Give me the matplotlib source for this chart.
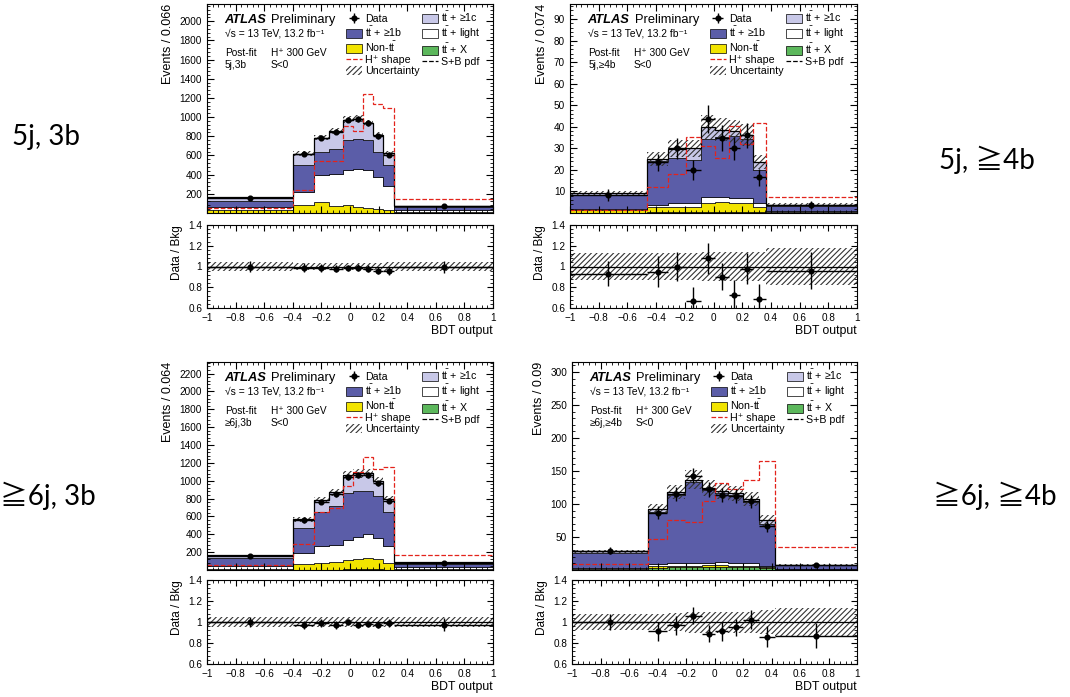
import numpy as np
import matplotlib.pyplot as plt
from matplotlib.patches import Patch
from matplotlib.lines import Line2D
from matplotlib.ticker import MultipleLocator, AutoMinorLocator, FixedLocator

plt.rcParams.update({
    'font.family': ['Liberation Sans', 'DejaVu Sans'],
    'mathtext.fontset': 'custom',
    'mathtext.rm': 'Liberation Sans',
    'mathtext.it': 'Liberation Sans:italic',
    'mathtext.bf': 'Liberation Sans:bold',
    'font.size': 7,
    'axes.linewidth': 0.8,
    'xtick.direction': 'in',
    'ytick.direction': 'in',
    'xtick.top': True,
    'ytick.right': True,
    'xtick.major.size': 5,
    'ytick.major.size': 5,
    'xtick.minor.size': 2.5,
    'ytick.minor.size': 2.5,
    'xtick.minor.visible': True,
    'ytick.minor.visible': True,
    'xtick.labelsize': 7.2,
    'ytick.labelsize': 7.2,
    'hatch.linewidth': 0.8,
})

col_1b = '#5b5da8'
col_1c = '#c8c8e8'
col_light = '#ffffff'
col_nontt = '#f2e400'
col_ttx = '#5cb85c'
col_red = '#e3231b'
col_hatch = '#333333'

# ---- 5j, 3b ----
edges_5j3b = [-1, -0.4, -0.25, -0.15, -0.05, 0.02, 0.09, 0.16, 0.23, 0.31, 1]
ttx_5j3b = [2, 3, 4, 4, 5, 5, 5, 4, 3, 1]
nontt_5j3b = [33, 77, 110, 65, 74, 57, 47, 41, 32, 14]
light_5j3b = [25, 144, 281, 336, 369, 397, 396, 335, 248, 20]
b_5j3b = [70, 276, 245, 261, 311, 310, 311, 258, 217, 25]
c_5j3b = [32, 120, 147, 186, 214, 214, 183, 180, 121, 10]
data_5j3b = [160, 620, 785, 850, 975, 985, 935, 800, 610, 70]
derr_5j3b = [13, 25, 28, 29, 31, 31, 31, 28, 25, 8]
hplus_5j3b = [52, 235, 545, 545, 904, 855, 1242, 1135, 1094, 148]
ratio_5j3b = [1.0, 0.99, 0.985, 0.98, 0.985, 0.99, 0.98, 0.96, 0.955, 0.995]
rerr_5j3b = [0.05, 0.04, 0.035, 0.035, 0.03, 0.03, 0.035, 0.035, 0.04, 0.06]
unc_5j3b = [0.04, 0.035, 0.035, 0.035, 0.035, 0.035, 0.035, 0.035, 0.04, 0.045]

# ---- 5j, >=4b ----
edges_5j4b = [-1, -0.465, -0.315, -0.19, -0.09, 0.01, 0.105, 0.185, 0.275, 0.365, 1]
ttx_5j4b = [0.2, 0.3, 0.3, 0.4, 0.5, 0.5, 0.5, 0.4, 0.3, 0.1]
nontt_5j4b = [1.3, 2.3, 2.7, 2.6, 4.1, 4.5, 4.3, 4.2, 2.7, 0.5]
light_5j4b = [0.5, 1.2, 1.6, 1.6, 2.6, 2.5, 2.2, 2.3, 1.6, 0.4]
b_5j4b = [6.4, 20.2, 20.9, 19.9, 27.2, 27.7, 28.6, 27.5, 15.3, 2.4]
c_5j4b = [0.8, 1.2, 4.3, 5.5, 5.6, 3.5, 2.4, 1.8, 3.8, 0.4]
data_5j4b = [8.5, 23.5, 30.0, 20.0, 43.5, 35.0, 30.0, 36.0, 16.5, 3.7]
derr_5j4b = [2.8, 4.0, 5.0, 4.5, 6.5, 6.0, 5.5, 6.0, 4.0, 1.9]
hplus_5j4b = [1.5, 12.1, 18.3, 35.5, 31.3, 25.5, 40.5, 32.1, 42.0, 7.2]
ratio_5j4b = [0.93, 0.95, 1.0, 0.67, 1.08, 0.9, 0.73, 0.98, 0.69, 0.96]
rerr_5j4b = [0.12, 0.15, 0.14, 0.13, 0.15, 0.13, 0.14, 0.15, 0.14, 0.18]
unc_5j4b = [0.13, 0.13, 0.13, 0.13, 0.14, 0.14, 0.14, 0.14, 0.14, 0.18]

# ---- >=6j, 3b ----
edges_6j3b = [-1, -0.4, -0.25, -0.15, -0.05, 0.02, 0.09, 0.16, 0.23, 0.31, 1]
ttx_6j3b = [2, 3, 4, 5, 8, 10, 10, 8, 5, 1]
nontt_6j3b = [13, 60, 70, 83, 99, 108, 119, 110, 69, 11]
light_6j3b = [35, 129, 191, 196, 232, 250, 276, 239, 191, 18]
b_6j3b = [85, 283, 380, 434, 526, 520, 475, 472, 380, 40]
c_6j3b = [30, 92, 136, 155, 199, 195, 203, 173, 147, 15]
data_6j3b = [160, 555, 765, 850, 1040, 1060, 1065, 970, 775, 80]
derr_6j3b = [13, 24, 28, 29, 32, 33, 33, 31, 28, 9]
hplus_6j3b = [60, 290, 645, 690, 940, 1100, 1270, 1130, 1150, 165]
ratio_6j3b = [1.0, 0.97, 0.99, 0.97, 1.0, 0.97, 0.98, 0.975, 0.99, 0.975]
rerr_6j3b = [0.05, 0.04, 0.035, 0.035, 0.03, 0.03, 0.03, 0.035, 0.04, 0.06]
unc_6j3b = [0.045, 0.045, 0.045, 0.045, 0.045, 0.045, 0.045, 0.045, 0.045, 0.05]

# ---- >=6j, >=4b ----
edges_6j4b = [-1, -0.47, -0.33, -0.21, -0.085, 0.005, 0.095, 0.2, 0.315, 0.425, 1]
ttx_6j4b = [0.5, 3.5, 4, 4.5, 5, 5, 5, 4.5, 3.5, 0.5]
nontt_6j4b = [1.0, 2.5, 2.0, 1.0, 2.0, 2.0, 1.5, 1.5, 1.0, 0.5]
light_6j4b = [1.5, 3.6, 4.0, 4.5, 4.0, 5.0, 4.0, 4.0, 2.0, 1.0]
b_6j4b = [23, 78.4, 103, 123, 110, 104, 102.5, 93, 63.5, 5]
c_6j4b = [2.3, 5, 5, 4, 3, 3, 3, 4, 5, 1]
data_6j4b = [29, 87, 115, 143, 122, 113, 112, 104, 66, 8]
derr_6j4b = [5.4, 9.3, 10.7, 12, 11, 10.6, 10.6, 10.2, 8.1, 2.8]
hplus_6j4b = [8.6, 47.5, 75, 72, 104, 132, 123, 136, 165, 35]
ratio_6j4b = [1.0, 0.91, 0.97, 1.06, 0.89, 0.91, 0.95, 1.02, 0.86, 0.87]
rerr_6j4b = [0.08, 0.09, 0.09, 0.08, 0.08, 0.09, 0.08, 0.09, 0.1, 0.12]
unc_6j4b = [0.08, 0.08, 0.09, 0.1, 0.1, 0.1, 0.1, 0.1, 0.11, 0.13]

stack_colors = [col_ttx, col_nontt, col_light, col_1b, col_1c]


def draw_panel(ax, axr, edges, comps, data, derr, hplus, ratio, rerr, unc,
               ymax, ystep, ylabel, region):
    edges = np.array(edges)
    centers = 0.5 * (edges[1:] + edges[:-1])
    halfw = 0.5 * (edges[1:] - edges[:-1])

    bottom = np.zeros(len(centers))
    for vals, col in zip(comps, stack_colors):
        top = bottom + np.array(vals)
        ax.stairs(top, edges, baseline=bottom, fill=True, facecolor=col,
                  edgecolor='black', linewidth=0.5)
        bottom = top
    total = bottom
    unc = np.array(unc)
    ax.stairs(total * (1 + unc), edges, baseline=total * (1 - unc), fill=True,
              facecolor='none', edgecolor=col_hatch, hatch='//////', linewidth=0)
    ax.stairs(total, edges, baseline=None, color='black', linewidth=0.9)
    ax.stairs(hplus, edges, baseline=None, color=col_red, linestyle='--',
              linewidth=0.9)
    eb = ax.errorbar(centers, data, yerr=derr, xerr=halfw, fmt='o', color='black',
                     ms=3.4, elinewidth=1.0, capsize=0)

    ax.set_xlim(-1, 1)
    ax.set_ylim(0, ymax)
    ax.yaxis.set_major_locator(FixedLocator(np.arange(ystep, ymax, ystep)))
    ax.yaxis.set_minor_locator(AutoMinorLocator(5))
    ax.xaxis.set_major_locator(MultipleLocator(0.2))
    ax.xaxis.set_minor_locator(MultipleLocator(0.04))
    ax.tick_params(labelbottom=False)
    ax.set_ylabel(ylabel, loc='top', fontsize=9)

    ax.text(0.06, 0.925, 'ATLAS', transform=ax.transAxes, fontsize=9.3,
            fontweight='bold', fontstyle='italic', va='center')
    ax.text(0.225, 0.925, 'Preliminary', transform=ax.transAxes, fontsize=9.3,
            va='center')
    ax.text(0.063, 0.857, '\u221as = 13 TeV, 13.2 fb\u207b\u00b9',
            transform=ax.transAxes, fontsize=7.4, va='center')
    ax.text(0.063, 0.765, 'Post-fit', transform=ax.transAxes, fontsize=7.3,
            va='center')
    ax.text(0.223, 0.765, 'H\u207a 300 GeV', transform=ax.transAxes,
            fontsize=7.3, va='center')
    ax.text(0.063, 0.706, region, transform=ax.transAxes, fontsize=7.3,
            va='center')
    ax.text(0.223, 0.706, 'S<0', transform=ax.transAxes, fontsize=7.3,
            va='center')

    tt = r'$\mathrm{t\bar{t}}$'
    handles = [
        eb,
        Patch(facecolor=col_1b, edgecolor='black', linewidth=0.5),
        Patch(facecolor=col_nontt, edgecolor='black', linewidth=0.5),
        Line2D([], [], color=col_red, linestyle='--', linewidth=0.9),
        Patch(facecolor='none', edgecolor=col_hatch, hatch='//////', linewidth=0),
        Patch(facecolor=col_1c, edgecolor='black', linewidth=0.5),
        Patch(facecolor=col_light, edgecolor='black', linewidth=0.5),
        Patch(facecolor=col_ttx, edgecolor='black', linewidth=0.5),
        Line2D([], [], color='black', linestyle='--', linewidth=0.9),
    ]
    labels = ['Data', tt + ' + \u22651b', 'Non-' + tt, 'H\u207a shape',
              'Uncertainty', tt + ' + \u22651c', tt + ' + light', tt + ' + X',
              'S+B pdf']
    ax.legend(handles, labels, ncol=2, loc='upper left',
              bbox_to_anchor=(0.462, 1.005), frameon=False, fontsize=7.7,
              handlelength=1.5, handleheight=0.85, labelspacing=0.1,
              columnspacing=0.2, handletextpad=0.3, borderaxespad=0.25)

    # ratio panel
    axr.stairs(1 + unc, edges, baseline=1 - unc, fill=True, facecolor='none',
               edgecolor=col_hatch, hatch='//////', linewidth=0)
    axr.axhline(1, color='black', linewidth=0.9)
    axr.errorbar(centers, ratio, yerr=rerr, xerr=halfw, fmt='o', color='black',
                 ms=3.4, elinewidth=1.0, capsize=0)
    axr.set_xlim(-1, 1)
    axr.set_ylim(0.6, 1.4)
    axr.yaxis.set_major_locator(FixedLocator([0.6, 0.8, 1.0, 1.2, 1.4]))
    axr.set_yticklabels(['0.6', '0.8', '1', '1.2', '1.4'])
    axr.yaxis.set_minor_locator(AutoMinorLocator(5))
    axr.set_xticks(np.linspace(-1, 1, 11))
    axr.set_xticklabels(['\u22121', '\u22120.8', '\u22120.6', '\u22120.4',
                         '\u22120.2', '0', '0.2', '0.4', '0.6', '0.8', '1'])
    axr.xaxis.set_minor_locator(MultipleLocator(0.04))
    axr.set_ylabel('Data / Bkg', loc='top', fontsize=8.5)
    axr.set_xlabel('BDT output', loc='right', fontsize=8.8, labelpad=1.5)
    axr.tick_params(axis='both', which='major', length=4)
    axr.tick_params(axis='both', which='minor', length=2)


W, H = 1070, 697
fig = plt.figure(figsize=(W / 100, H / 100), dpi=100)


def box(l, t, r, b):
    return [l / W, (H - b) / H, (r - l) / W, (b - t) / H]


ax1 = fig.add_axes(box(207, 4, 493, 213))
ax1r = fig.add_axes(box(207, 225, 493, 308))
ax2 = fig.add_axes(box(570, 4, 857, 213))
ax2r = fig.add_axes(box(570, 225, 857, 308))
ax3 = fig.add_axes(box(207, 362, 493, 570))
ax3r = fig.add_axes(box(207, 580, 493, 664))
ax4 = fig.add_axes(box(572, 362, 857, 570))
ax4r = fig.add_axes(box(572, 580, 857, 664))

draw_panel(ax1, ax1r, edges_5j3b,
           [ttx_5j3b, nontt_5j3b, light_5j3b, b_5j3b, c_5j3b],
           data_5j3b, derr_5j3b, hplus_5j3b, ratio_5j3b, rerr_5j3b, unc_5j3b,
           2180, 200, 'Events / 0.066', '5j,3b')
draw_panel(ax2, ax2r, edges_5j4b,
           [ttx_5j4b, nontt_5j4b, light_5j4b, b_5j4b, c_5j4b],
           data_5j4b, derr_5j4b, hplus_5j4b, ratio_5j4b, rerr_5j4b, unc_5j4b,
           97, 10, 'Events / 0.074', '5j,\u22654b')
draw_panel(ax3, ax3r, edges_6j3b,
           [ttx_6j3b, nontt_6j3b, light_6j3b, b_6j3b, c_6j3b],
           data_6j3b, derr_6j3b, hplus_6j3b, ratio_6j3b, rerr_6j3b, unc_6j3b,
           2330, 200, 'Events / 0.064', '\u22656j,3b')
draw_panel(ax4, ax4r, edges_6j4b,
           [ttx_6j4b, nontt_6j4b, light_6j4b, b_6j4b, c_6j4b],
           data_6j4b, derr_6j4b, hplus_6j4b, ratio_6j4b, rerr_6j4b, unc_6j4b,
           315, 50, 'Events / 0.09', '\u22656j,\u22654b')

side_font = ['Lato', 'Noto Sans CJK JP']
fig.text(46 / W, 1 - 145 / H, '5j, 3b', fontsize=20, family=side_font,
         ha='center', va='baseline')
fig.text(987 / W, 1 - 169 / H, '5j, \u22674b', fontsize=20, family=side_font,
         ha='center', va='baseline')
fig.text(48 / W, 1 - 505 / H, '\u22676j, 3b', fontsize=20, family=side_font,
         ha='center', va='baseline')
fig.text(995 / W, 1 - 505 / H, '\u22676j, \u22674b', fontsize=20,
         family=side_font, ha='center', va='baseline')

fig.savefig('out.png', dpi=100)
